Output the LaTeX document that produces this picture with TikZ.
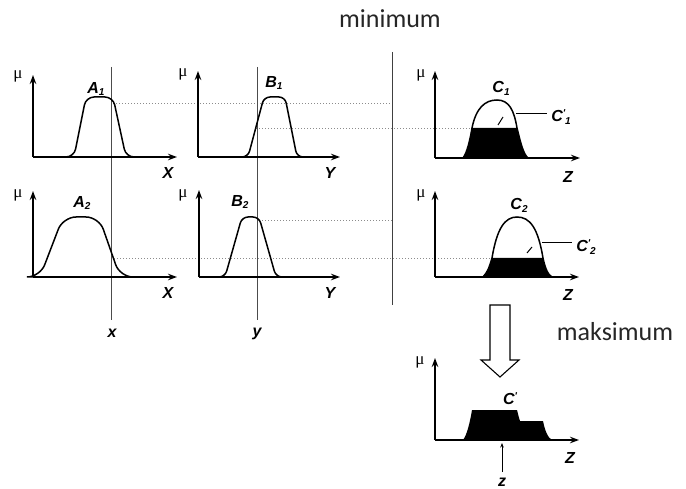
\documentclass[tikz,border=0pt]{standalone}
\usepackage{fontspec}
\setmainfont{Liberation Serif}
\newfontfamily\labfont{Liberation Sans}
\newfontfamily\capfont{Carlito}
\usetikzlibrary{arrows.meta}
\newcommand{\sublab}[2]{#1\raisebox{-0.35ex}{\fontsize{10}{10}\selectfont #2}}
\newcommand{\primelab}[2]{#1\raisebox{0.6ex}{\fontsize{10}{10}\selectfont '}\raisebox{-0.35ex}{\fontsize{10}{10}\selectfont #2}}
\begin{document}
\begin{tikzpicture}[x=1pt,y=-1pt,
  axis/.style={line width=1.6pt,-{Stealth[length=9pt,width=6.5pt]}},
  memb/.style={line width=1.5pt,rounded corners=#1},
  memb/.default=7,
  guide/.style={line width=1pt,black!70},
  dots/.style={line width=0.8pt,black!45,dash pattern=on 1.4pt off 1.6pt},
  mu/.style={font=\fontsize{17}{17}\selectfont},
  axlab/.style={font=\labfont\bfseries\itshape\fontsize{16}{16}\selectfont},
  setlab/.style={font=\labfont\bfseries\itshape\fontsize{16}{16}\selectfont},
  caption/.style={font=\capfont\fontsize{26}{26}\selectfont,text=black!85}
]
\useasboundingbox (0,0) rectangle (686,489);

% ---------- dotted guide lines ----------
\draw[dots] (113,103) -- (392,103);
\draw[dots] (256,128) -- (472,128);
\draw[dots] (259,220) -- (392,220);
\draw[dots] (111,258) -- (492,258);

% ---------- separator and crisp input lines ----------
\draw[line width=1pt,black!75] (392,52) -- (392,305);
\coordinate (xt) at (111,67); \coordinate (xb) at (111,320);
\coordinate (yt) at (257,67); \coordinate (yb) at (257,320);
\draw[guide] (xt) -- (xb);
\draw[guide] (yt) -- (yb);
\node[axlab] (xlab) at (112,333) {x};
\node[axlab] (ylab) at (257,334) {y};

% ---------- panel A1 ----------
\coordinate (a1o) at (33,157);
\draw[axis] (a1o) -- (33,75);
\draw[axis] (a1o) -- (177,157);
\node[mu] (a1mu) at (18,76) {μ};
\node[axlab] (a1X) at (168,173) {X};
\draw[memb=8] (68,157) -- (74,157) -- (86,97) -- (113,97) -- (126,157) -- (130,157);
\node[setlab] (A1) at (96,89) {\sublab{A}{1}};

% ---------- panel B1 ----------
\coordinate (b1o) at (198,157);
\draw[axis] (b1o) -- (198,71);
\draw[axis] (b1o) -- (340,157);
\node[mu] (b1mu) at (183,74) {μ};
\node[axlab] (b1Y) at (330,173) {Y};
\draw[memb=6] (243,157) -- (248,157) -- (264,97) -- (285,97) -- (297,157) -- (301,157);
\node[setlab] (B1) at (274,83) {\sublab{B}{1}};

% ---------- panel C1 ----------
\coordinate (c1o) at (435,158);
\fill (463,158) .. controls (467,153) and (470,140) .. (472,128) -- (517,128)
      .. controls (520,140) and (523,154) .. (528,158) -- cycle;
\draw[line width=1.5pt] (460,158) -- (463,158) .. controls (467,153) and (470,140) .. (472,128)
      .. controls (476,108) and (485,100) .. (497,100) .. controls (509,100) and (514,110) .. (517,128)
      .. controls (520,140) and (523,154) .. (528,158) -- (531,158);
\draw[axis] (c1o) -- (435,71);
\draw[axis] (c1o) -- (580,158);
\node[mu] (c1mu) at (421,75) {μ};
\node[axlab] (c1Z) at (568,177) {Z};
\node[setlab] (C1) at (501,88) {\sublab{C}{1}};
\node[setlab] (C1p) at (561,117) {\primelab{C}{1}};
\draw[line width=1pt] (C1p.west) ++(-1,-3) coordinate (c1l) -- (516,114);
\draw[line width=1pt] (503,117) -- (498,125);

% ---------- panel A2 ----------
\coordinate (a2o) at (33,277);
\draw[axis] (a2o) -- (33,191);
\draw[axis] (a2o) -- (177,277);
\node[mu] (a2mu) at (18,195) {μ};
\node[axlab] (a2X) at (168,293) {X};
\draw[memb=13] (34,277) -- (40,277) -- (63,217) -- (99,217) -- (120,277) -- (126,277);
\node[setlab] (A2) at (82,203) {\sublab{A}{2}};

% ---------- panel B2 ----------
\coordinate (b2o) at (199,277);
\draw[axis] (b2o) -- (199,190);
\draw[axis] (b2o) -- (340,277);
\node[mu] (b2mu) at (183,195) {μ};
\node[axlab] (b2Y) at (330,293) {Y};
\draw[memb=6] (220,277) -- (225,277) -- (242,217) -- (259,217) -- (276,277) -- (280,277);
\node[setlab] (B2) at (240,202) {\sublab{B}{2}};

% ---------- panel C2 ----------
\coordinate (c2o) at (435,277);
\fill (483,277) .. controls (488,272) and (490,265) .. (492,258) -- (543,258)
      .. controls (545,268) and (548,275) .. (552,277) -- cycle;
\draw[line width=1.5pt] (480,277) -- (483,277) .. controls (488,272) and (490,265) .. (492,258)
      .. controls (497,228) and (505,217) .. (517,217) .. controls (530,217) and (538,228) .. (543,258)
      .. controls (545,268) and (548,275) .. (552,277) -- (555,277);
\draw[axis] (c2o) -- (435,191);
\draw[axis] (c2o) -- (579,277);
\node[mu] (c2mu) at (421,195) {μ};
\node[axlab] (c2Z) at (568,295) {Z};
\node[setlab] (C2) at (519,205) {\sublab{C}{2}};
\node[setlab] (C2p) at (586,247) {\primelab{C}{2}};
\draw[line width=1pt] (C2p.west) ++(-1,-4) coordinate (c2l) -- (542,243);
\draw[line width=1pt] (532,247) -- (527,253);

% ---------- aggregation arrow ----------
\draw[line width=1.1pt,fill=white] (490,305) -- (510,305) -- (510,360) -- (519,360) -- (500,377)
      -- (481,360) -- (490,360) -- cycle;

% ---------- panel C' ----------
\coordinate (co) at (435,440);
\fill (463,440) .. controls (467,435) and (470,422) .. (472,410) -- (517,410)
      .. controls (518,414) and (519,418) .. (520,421) -- (543,421)
      .. controls (545,431) and (548,438) .. (552,440) -- cycle;
\draw[axis] (co) -- (435,358);
\draw[axis] (co) -- (579,440);
\node[mu] (cmu) at (420,362) {μ};
\node[axlab] (cZ) at (570,458) {Z};
\node[setlab] (Cp) at (510,399) {C\raisebox{0.6ex}{\fontsize{10}{10}\selectfont '}};
\node[axlab] (zlab) at (502,482) {z};
\draw[line width=0.9pt,-{Stealth[length=4.5pt,width=3.5pt]}] (zlab.north) ++(0,-2) coordinate (zs) -- (502,443);

% ---------- captions ----------
\node[caption] (minimum) at (390,19) {minimum};
\node[caption] (maksimum) at (615,332) {maksimum};
\end{tikzpicture}
\end{document}
